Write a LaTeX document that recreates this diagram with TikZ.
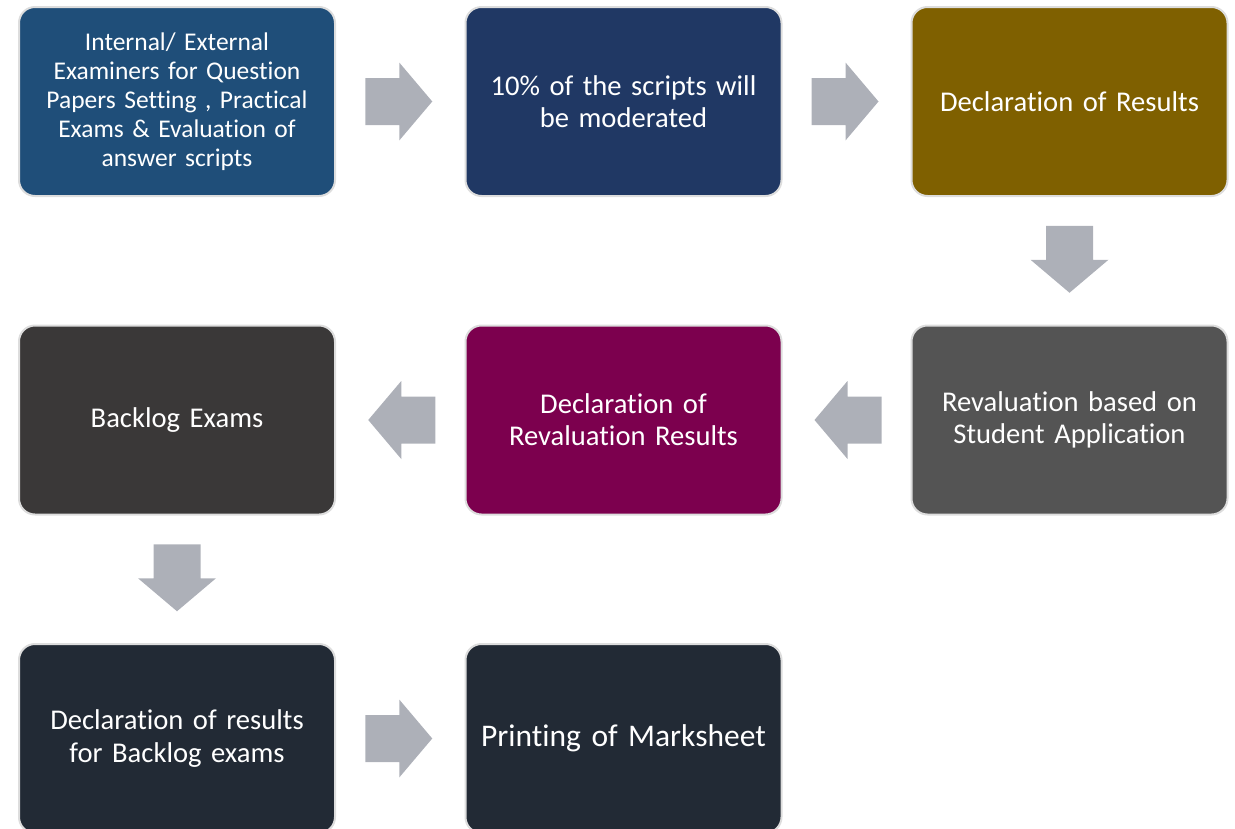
\documentclass[tikz,border=0pt]{standalone}
\usepackage{fontspec}
\setmainfont[Ligatures={NoCommon,NoDiscretionary,NoContextual}]{Carlito}
\usetikzlibrary{positioning}
\definecolor{cA}{HTML}{1F4E79}
\definecolor{cB}{HTML}{203864}
\definecolor{cC}{HTML}{7F6000}
\definecolor{cD}{HTML}{545454}
\definecolor{cE}{HTML}{7C004E}
\definecolor{cF}{HTML}{3A3838}
\definecolor{cG}{HTML}{222A35}
\definecolor{arrowgray}{HTML}{ADB0B8}
\definecolor{rim}{HTML}{DDDDDD}
\tikzset{
  box/.style={draw=rim, line width=2pt, rounded corners=16pt, minimum width=316pt, minimum height=189pt,
    text width=300pt, align=center, text=white, inner sep=0pt, font=\fontsize{28.6}{32}\selectfont},
  barrow/.pic={\fill[arrowgray] (-35,-23.5) -- (-1,-23.5) -- (-1,-39) -- (32,0) -- (-1,39) -- (-1,23.5) -- (-35,23.5) -- cycle;}
}
\begin{document}
\begin{tikzpicture}[x=1pt,y=1pt]
\useasboundingbox (0,0) rectangle (1235,-828);
\begin{scope}
\clip (0,0) rectangle (1235,-828);
\node[box, fill=cA, font=\fontsize{25.5}{29}\selectfont] (n1) at (177,-101.5) {Internal/ External\\Examiners for Question\\Papers Setting , Practical\\Exams \& Evaluation of\\answer scripts};
\node[box, fill=cB] (n2) at (623.5,-101.5) {10\% of the scripts will\\be moderated};
\node[box, fill=cC] (n3) at (1069.5,-101.5) {Declaration of Results};
\node[box, fill=cD] (n4) at (1069.5,-420) {Revaluation based on\\Student Application};
\node[box, fill=cE] (n5) at (623.5,-420) {Declaration of\\Revaluation Results};
\node[box, fill=cF] (n6) at (177,-420) {Backlog Exams};
\node[box, fill=cG, font=\fontsize{28.6}{33}\selectfont] (n7) at (177,-738.5) {Declaration of results\\for Backlog exams};
\node[box, fill=cG, font=\fontsize{31.5}{35}\selectfont] (n8) at (623.5,-738.5) {Printing of Marksheet};
\end{scope}
\path (n1.east) -- (n2.west) coordinate[midway] (m12);
\path (n2.east) -- (n3.west) coordinate[midway] (m23);
\path (n3.south) -- (n4.north) coordinate[midway] (m34);
\path (n4.west) -- (n5.east) coordinate[midway] (m45);
\path (n5.west) -- (n6.east) coordinate[midway] (m56);
\path (n6.south) -- (n7.north) coordinate[midway] (m67);
\path (n7.east) -- (n8.west) coordinate[midway] (m78);
\pic at (m12) {barrow};
\pic at (m23) {barrow};
\pic[rotate=-90] at (m34) {barrow};
\pic[rotate=180] at (m45) {barrow};
\pic[rotate=180] at (m56) {barrow};
\pic[rotate=-90] at (m67) {barrow};
\pic at (m78) {barrow};
\end{tikzpicture}
\end{document}
